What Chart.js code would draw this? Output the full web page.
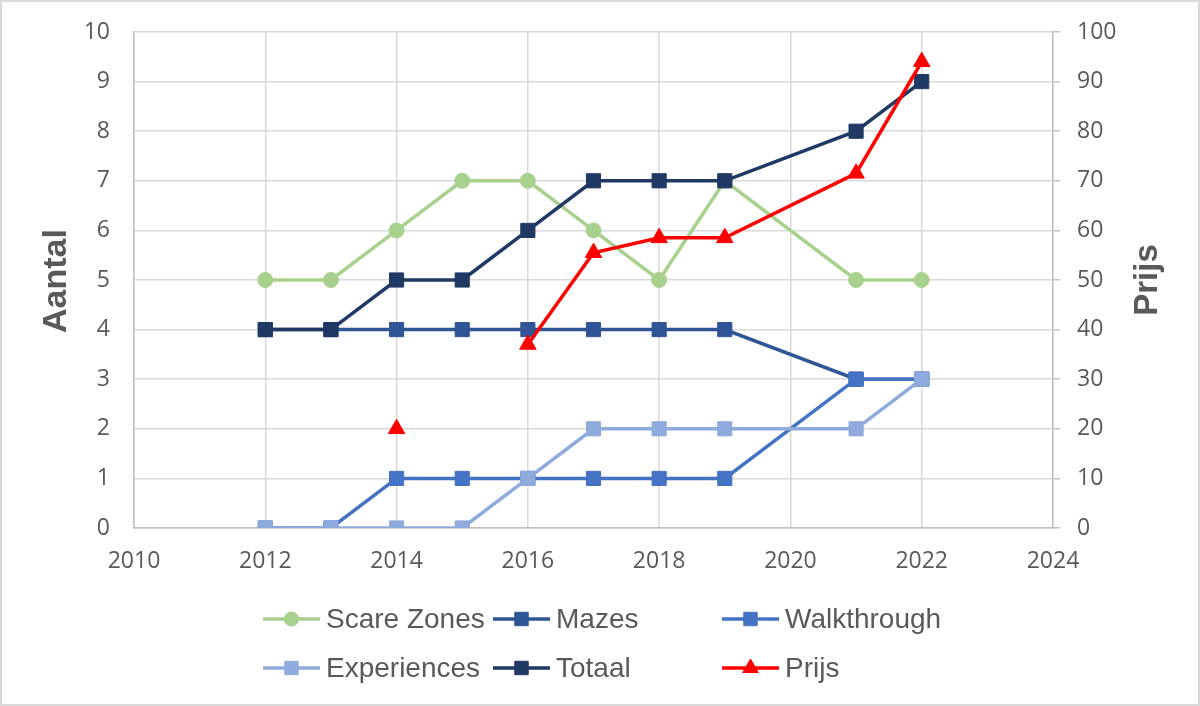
<!DOCTYPE html>
<html>
<head>
<meta charset="utf-8">
<script src="https://cdn.jsdelivr.net/npm/chart.js@4.4.0/dist/chart.umd.min.js"></script>
<style>
html,body{margin:0;padding:0;background:#fff;}
#wrap{width:1200px;height:706px;position:relative;}
</style>
</head>
<body>
<div id="wrap"><canvas id="c" width="1200" height="706"></canvas></div>
<script>
const years = [2012, 2013, 2014, 2015, 2016, 2017, 2018, 2019, 2021, 2022];
const scareZones = [5, 5, 6, 7, 7, 6, 5, 7, 5, 5];
const mazes = [4, 4, 4, 4, 4, 4, 4, 4, 3, 3];
const walkthrough = [0, 0, 1, 1, 1, 1, 1, 1, 3, 3];
const experiences = [0, 0, 0, 0, 1, 2, 2, 2, 2, 3];
const totaal = [4, 4, 5, 5, 6, 7, 7, 7, 8, 9];
const prijs = [null, null, 20, null, 37, 55.5, 58.5, 58.5, 71.5, 94];

const seriesNames = ['Scare Zones', 'Mazes', 'Walkthrough', 'Experiences', 'Totaal', 'Prijs'];
const seriesValues = [scareZones, mazes, walkthrough, experiences, totaal, prijs];
const seriesColors = ['#A9D18E', '#2F5597', '#4472C4', '#8FAADC', '#203864', '#FF0000'];
const seriesMarkers = ['circle', 'rect', 'rect', 'rect', 'rect', 'triangle'];
const seriesRadius = [7.5, 10, 10, 10, 10, 9.5];

const xMin = 2010, xMax = 2024, xStep = 2;
const yMin = 0, yMax = 10, yStep = 1;
const y2Min = 0, y2Max = 100, y2Step = 10;

const TEXT = '#595959';
const GRID = '#D9D9D9';
const AXIS = '#BFBFBF';

const datasets = seriesNames.map((name, i) => ({
  label: name,
  data: years.map((x, j) => ({ x: x, y: seriesValues[i][j] })),
  borderColor: seriesColors[i],
  backgroundColor: seriesColors[i],
  pointBackgroundColor: seriesColors[i],
  pointBorderColor: seriesColors[i],
  pointStyle: seriesMarkers[i],
  pointRadius: seriesRadius[i],
  pointBorderWidth: 1,
  borderWidth: 3.5,
  tension: 0,
  spanGaps: false,
  yAxisID: name === 'Prijs' ? 'y2' : 'y',
  order: seriesNames.length - 1 - i
}));

const decor = {
  id: 'decor',
  beforeDraw(chart) {
    const ctx = chart.ctx;
    ctx.save();
    ctx.fillStyle = '#fff';
    ctx.fillRect(0, 0, chart.width, chart.height);
    ctx.strokeStyle = '#D9D9D9';
    ctx.lineWidth = 2;
    ctx.strokeRect(1, 1, chart.width - 2, chart.height - 2);
    ctx.restore();
  },
  afterDraw(chart) {
    const ctx = chart.ctx;
    ctx.save();
    ctx.fillStyle = TEXT;
    ctx.textAlign = 'center';
    ctx.textBaseline = 'middle';
    ctx.font = 'bold 34px "Liberation Sans", Arial, sans-serif';
    ctx.save();
    ctx.translate(57, 281);
    ctx.rotate(-Math.PI / 2);
    ctx.fillText('Aantal', 0, 0);
    ctx.restore();
    ctx.font = 'bold 33px "Liberation Sans", Arial, sans-serif';
    ctx.save();
    ctx.translate(1148, 280);
    ctx.rotate(-Math.PI / 2);
    ctx.fillText('Prijs', 0, 0);
    ctx.restore();

    const colX = [263, 493, 722];
    const rowY = [619, 668];
    const lineLen = 57;
    chart.data.datasets.forEach((ds, i) => {
      const cx = colX[i % 3];
      const cy = rowY[Math.floor(i / 3)];
      ctx.strokeStyle = ds.borderColor;
      ctx.lineWidth = ds.borderWidth;
      ctx.lineCap = 'butt';
      ctx.beginPath();
      ctx.moveTo(cx, cy);
      ctx.lineTo(cx + lineLen, cy);
      ctx.stroke();
      ctx.fillStyle = ds.pointBackgroundColor;
      ctx.strokeStyle = ds.pointBorderColor;
      ctx.lineWidth = 1;
      Chart.helpers.drawPoint(ctx, {
        pointStyle: ds.pointStyle,
        rotation: 0,
        radius: ds.pointRadius * 0.95,
        borderWidth: 1
      }, cx + lineLen / 2, cy);
      ctx.fillStyle = TEXT;
      ctx.textAlign = 'left';
      ctx.textBaseline = 'middle';
      ctx.font = '28px "Liberation Sans", Arial, sans-serif';
      ctx.fillText(ds.label, cx + lineLen + 6, cy + 1);
    });
    ctx.restore();
  }
};

new Chart(document.getElementById('c'), {
  type: 'line',
  data: { datasets: datasets },
  options: {
    responsive: false,
    animation: false,
    devicePixelRatio: 1,
    layout: { padding: { top: 32, left: 0, right: 0, bottom: 0 } },
    plugins: {
      legend: { display: false },
      tooltip: { enabled: false },
      title: { display: false }
    },
    scales: {
      x: {
        type: 'linear',
        min: xMin, max: xMax,
        afterFit(s) { s.height = 178; s.paddingLeft = 10; s.paddingRight = 10; },
        ticks: {
          stepSize: xStep,
          color: TEXT,
          padding: 20,
          font: { family: '"Open Sans", sans-serif', size: 23 },
          callback: v => String(v),
          maxRotation: 0
        },
        grid: { color: GRID, lineWidth: 1.5, drawTicks: false },
        border: { color: AXIS, width: 1.5 }
      },
      y: {
        type: 'linear',
        position: 'left',
        min: yMin, max: yMax,
        afterFit(s) { s.width = 134; s.paddingTop = 14; s.paddingBottom = 14; },
        ticks: {
          stepSize: yStep,
          color: TEXT,
          padding: 24,
          font: { family: '"Open Sans", sans-serif', size: 23 }
        },
        grid: { color: GRID, lineWidth: 1.5, drawTicks: false },
        border: { color: AXIS, width: 1.5 }
      },
      y2: {
        type: 'linear',
        position: 'right',
        min: y2Min, max: y2Max,
        afterFit(s) { s.width = 147; s.paddingTop = 14; s.paddingBottom = 14; },
        ticks: {
          stepSize: y2Step,
          color: TEXT,
          padding: 17,
          font: { family: '"Open Sans", sans-serif', size: 23 }
        },
        grid: { drawOnChartArea: false, color: AXIS, lineWidth: 1.5, drawTicks: true, tickLength: 7 },
        border: { color: AXIS, width: 1.5 }
      }
    }
  },
  plugins: [decor]
});
</script>
</body>
</html>
